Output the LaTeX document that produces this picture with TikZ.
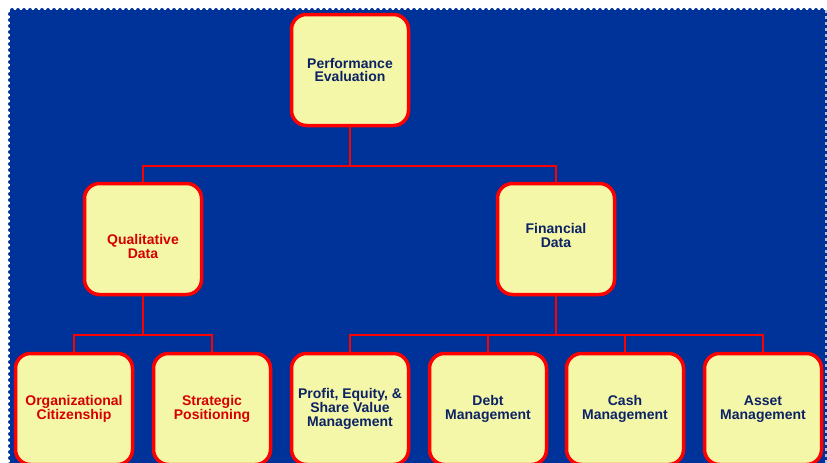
\documentclass[tikz,border=0pt]{standalone}
\usepackage{fontspec}
\setmainfont{Liberation Sans}
\definecolor{bgblue}{RGB}{0,51,153}
\definecolor{boxyellow}{RGB}{244,247,168}
\definecolor{txtblue}{RGB}{12,34,100}
\definecolor{txtred}{RGB}{214,0,0}

\begin{document}
\begin{tikzpicture}[x=1pt, y=-1pt,
    box/.style={draw=red, line width=3.5pt, fill=boxyellow, rounded corners=15pt,
      minimum width=117pt, minimum height=111pt, inner sep=2pt, align=center,
      font=\bfseries\fontsize{14}{13.8}\selectfont},
    bluebox/.style={box, text=txtblue},
    redbox/.style={box, text=txtred},
    link/.style={draw=red, line width=2pt}]
    \clip (0,0) rectangle (827,463);

    % Background
    \fill[bgblue] (10,10) rectangle (827,470);
    \draw[bgblue, line width=4pt, dash pattern=on 0pt off 6pt, line cap=round] (10,470) -- (10,10) -- (826,10);
    \draw[white!70!bgblue, line width=1.5pt, dash pattern=on 3pt off 3pt] (826,10) -- (826,470);

    % Top level
    \node[bluebox] (perf) at (350,70) {Performance\\Evaluation};

    % Second level
    \node[redbox] (qual) at (143,239) {\mbox{}\\[12pt]Qualitative\\Data};
    \node[bluebox] (fin) at (556,239) {Financial\\Data\\[-6pt]};

    % Third level
    \node[redbox] (org) at (74,409) {Organizational\\Citizenship};
    \node[redbox] (strat) at (212,409) {Strategic\\Positioning};
    \node[bluebox] (profit) at (350,409) {Profit, Equity, \&\\Share Value\\Management};
    \node[bluebox] (debt) at (488,409) {Debt\\Management};
    \node[bluebox] (cash) at (625,409) {Cash\\Management};
    \node[bluebox] (asset) at (763,409) {Asset\\Management};

    % Connectors
    \draw[link] (perf.south) -- (perf.south |- 0,166) -| (qual.north);
    \draw[link] (perf.south) -- (perf.south |- 0,166) -| (fin.north);
    \draw[link] (qual.south) -- (qual.south |- 0,335) -| (org.north);
    \draw[link] (qual.south) -- (qual.south |- 0,335) -| (strat.north);
    \foreach \leaf in {profit, debt, cash, asset}
      \draw[link] (fin.south) -- (fin.south |- 0,335) -| (\leaf.north);
\end{tikzpicture}
\end{document}
